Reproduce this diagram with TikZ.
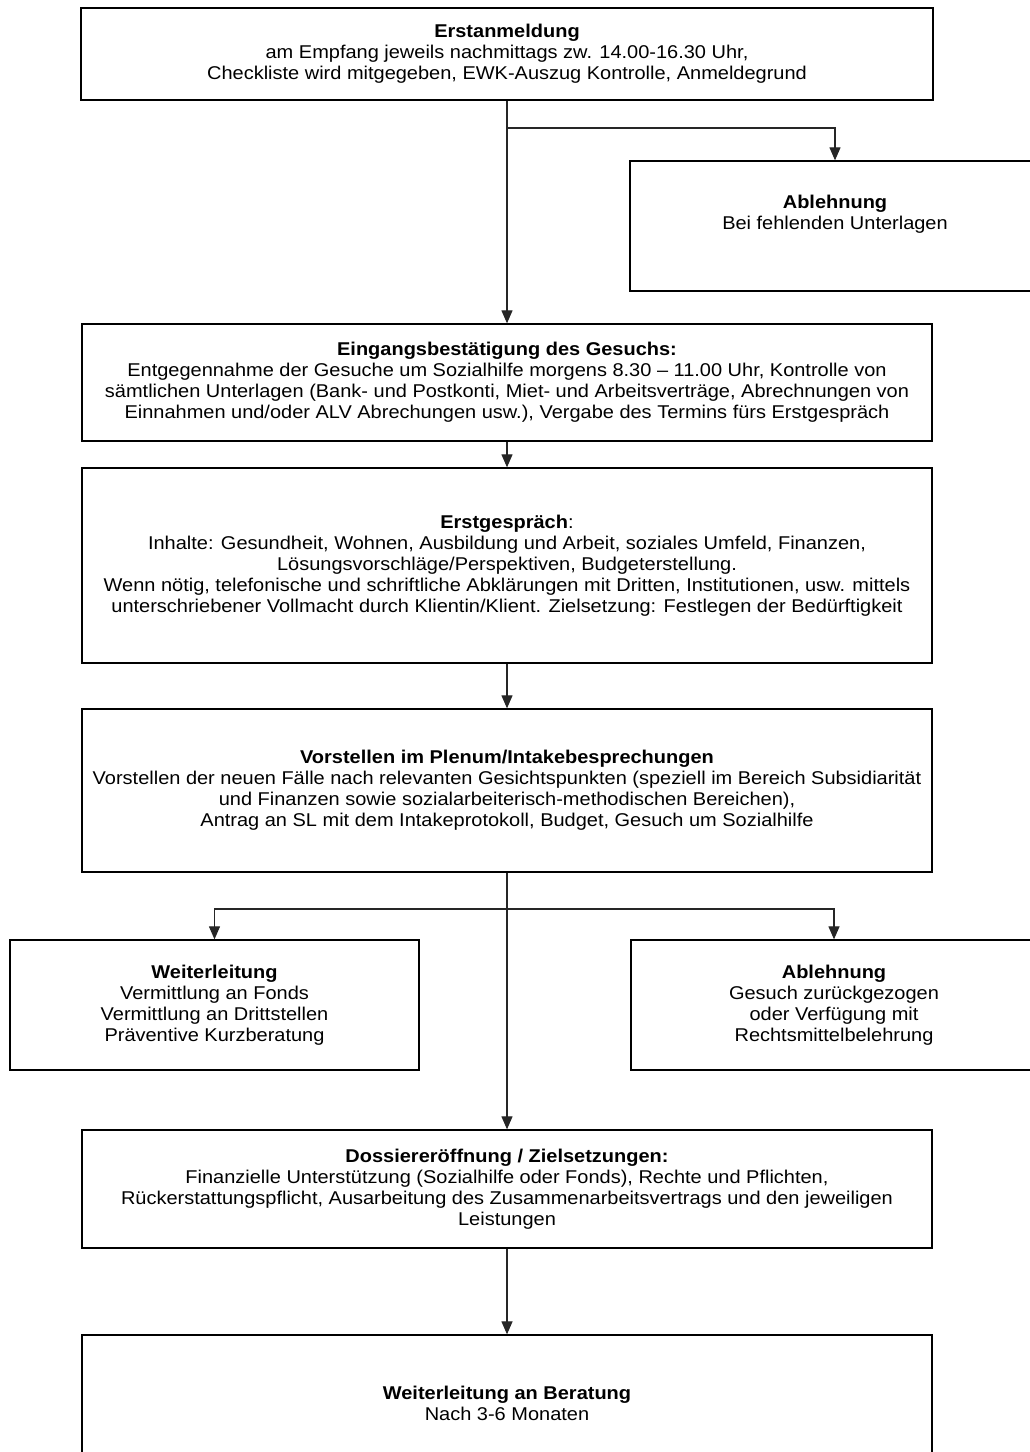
\documentclass[tikz,border=0pt]{standalone}
\usepackage{fontspec}
\setmainfont{Liberation Sans}[FakeStretch=1.08]
\usetikzlibrary{arrows.meta}
\begin{document}
\begin{tikzpicture}[x=1pt,y=-1pt,
  box/.style={draw=black,line width=1.3pt,rectangle,inner sep=0pt,align=center,
    font=\fontsize{18.5}{21}\selectfont},
  arr/.style={draw=black!85,line width=1.2pt,-{Triangle[length=13pt,width=11pt]}},
  ln/.style={draw=black!85,line width=1.2pt}]
\useasboundingbox (0,0) rectangle (1030,1452);
\node[box,minimum width=852pt,minimum height=92pt] (B1) at (507,54)
 {\textbf{Erstanmeldung}\\am Empfang jeweils nachmittags zw. 14.00-16.30 Uhr,\\Checkliste wird mitgegeben, EWK-Auszug Kontrolle, Anmeldegrund};
\node[box,minimum width=410pt,minimum height=130pt] (A1) at (835,226)
 {\textbf{Ablehnung}\\Bei fehlenden Unterlagen\\\strut};
\node[box,minimum width=850pt,minimum height=117pt] (B2) at (507,382.5)
 {\textbf{Eingangsbestätigung des Gesuchs:}\\Entgegennahme der Gesuche um Sozialhilfe morgens 8.30 – 11.00 Uhr, Kontrolle von\\sämtlichen Unterlagen (Bank- und Postkonti, Miet- und Arbeitsverträge, Abrechnungen von\\Einnahmen und/oder ALV Abrechungen usw.), Vergabe des Termins fürs Erstgespräch};
\node[box,minimum width=850pt,minimum height=195pt] (B3) at (507,565.5)
 {\textbf{Erstgespräch}:\\Inhalte: Gesundheit, Wohnen, Ausbildung und Arbeit, soziales Umfeld, Finanzen,\\Lösungsvorschläge/Perspektiven, Budgeterstellung.\\Wenn nötig, telefonische und schriftliche Abklärungen mit Dritten, Institutionen, usw. mittels\\unterschriebener Vollmacht durch Klientin/Klient. Zielsetzung: Festlegen der Bedürftigkeit};
\node[box,minimum width=850pt,minimum height=163pt] (B4) at (507,790.5)
 {\textbf{Vorstellen im Plenum/Intakebesprechungen}\\Vorstellen der neuen Fälle nach relevanten Gesichtspunkten (speziell im Bereich Subsidiarität\\und Finanzen sowie sozialarbeiterisch-methodischen Bereichen),\\Antrag an SL mit dem Intakeprotokoll, Budget, Gesuch um Sozialhilfe};
\node[box,minimum width=409pt,minimum height=130pt] (W) at (214.5,1005)
 {\textbf{Weiterleitung}\\Vermittlung an Fonds\\Vermittlung an Drittstellen\\Präventive Kurzberatung};
\node[box,minimum width=406pt,minimum height=130pt] (A2) at (834,1005)
 {\textbf{Ablehnung}\\Gesuch zurückgezogen\\oder Verfügung mit\\Rechtsmittelbelehrung};
\node[box,minimum width=850pt,minimum height=118pt] (B5) at (507,1189)
 {\textbf{Dossiereröffnung / Zielsetzungen:}\\Finanzielle Unterstützung (Sozialhilfe oder Fonds), Rechte und Pflichten,\\Rückerstattungspflicht, Ausarbeitung des Zusammenarbeitsvertrags und den jeweiligen\\Leistungen};
\node[box,minimum width=850pt,minimum height=136pt] (B6) at (507,1403)
 {\textbf{Weiterleitung an Beratung}\\Nach 3-6 Monaten};
\coordinate (j1) at (507,128);
\coordinate (j2) at (507,909);
\draw[arr] (B1.south) -- (B2.north);
\draw[arr] (j1) -| (A1.north);
\draw[arr] (B2.south) -- (B3.north);
\draw[arr] (B3.south) -- (B4.north);
\draw[arr] (B4.south) -- (B5.north);
\draw[arr] (j2) -| (W.north);
\draw[arr] (j2) -| (A2.north);
\draw[arr] (B5.south) -- (B6.north);
\end{tikzpicture}
\end{document}
